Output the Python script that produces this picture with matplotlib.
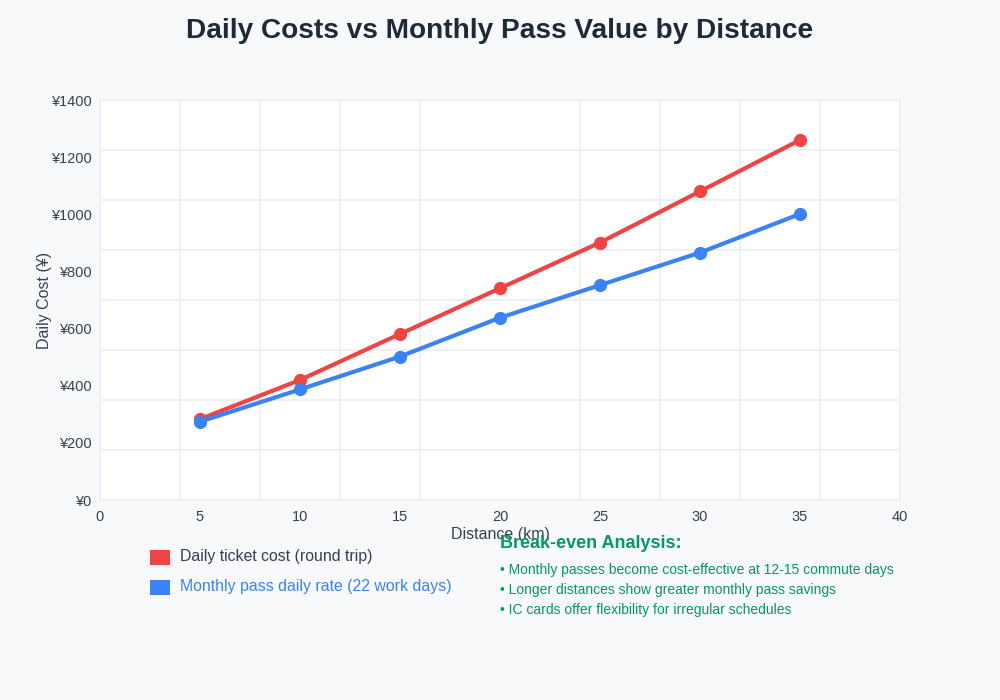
import numpy as np
import matplotlib.pyplot as plt
from matplotlib.patches import Rectangle

plt.rcParams['font.family'] = ['Liberation Sans', 'DejaVu Sans']

distance = [5, 10, 15, 20, 25, 30, 35]
ticket_cost = [283, 420, 581, 741, 901, 1080, 1260]
pass_rate = [274, 387, 502, 638, 752, 866, 1001]

x_ticks = [0, 5, 10, 15, 20, 25, 30, 35, 40]
y_ticks = [0, 200, 400, 600, 800, 1000, 1200, 1400]

notes = [
    "\u2022 Monthly passes become cost-effective at 12-15 commute days",
    "\u2022 Longer distances show greater monthly pass savings",
    "\u2022 IC cards offer flexibility for irregular schedules",
]

red = '#ef4444'
blue = '#3b82f6'
green = '#059669'
text_col = '#374151'
grid_col = '#edf0f5'

W, H = 1000, 700
fig = plt.figure(figsize=(W / 100, H / 100), dpi=100, facecolor='#f8f9fa')
ax = fig.add_axes([100 / W, 1 - 500 / H, 800 / W, 400 / H])
ax.set_facecolor('white')

ax.plot(distance, ticket_cost, color=red, lw=3, marker='o', ms=8.5, zorder=3)
ax.plot(distance, pass_rate, color=blue, lw=3, marker='o', ms=8.5, zorder=4)

ax.set_xlim(0, 40)
ax.set_ylim(0, 1400)
ax.set_xticks(x_ticks)
ax.set_yticks(y_ticks)
ax.set_yticklabels([f"\u00a5{v}" for v in y_ticks])
ax.set_xticks(np.arange(0, 41, 4), minor=True)
ax.set_yticks(np.arange(0, 1401, 175), minor=True)
ax.grid(which='minor', color=grid_col, lw=1.5)
ax.grid(which='major', visible=False)
ax.tick_params(which='both', length=0)
ax.tick_params(axis='both', labelsize=10.5, colors=text_col, pad=7)
ax.tick_params(axis='y', pad=6)
for s in ax.spines.values():
    s.set_color(grid_col)
    s.set_linewidth(1.5)

def ft(x, y, s, **kw):
    fig.text(x / W, 1 - y / H, s, **kw)

ft(500, 31, "Daily Costs vs Monthly Pass Value by Distance", ha='center', va='center',
   fontsize=20.2, fontweight='bold', color='#1f2937')
ft(500, 535, "Distance (km)", ha='center', va='center', fontsize=11.5, color=text_col)
ft(45, 300, "Daily Cost (\u00a5)", ha='center', va='center', rotation=90, fontsize=11.5, color=text_col)

fig.patches.append(Rectangle((150 / W, 1 - 565 / H), 20 / W, 15 / H, transform=fig.transFigure,
                             facecolor=red, edgecolor='none'))
fig.patches.append(Rectangle((150 / W, 1 - 595 / H), 20 / W, 15 / H, transform=fig.transFigure,
                             facecolor=blue, edgecolor='none'))
ft(180, 557, "Daily ticket cost (round trip)", va='center', fontsize=11.45, color=text_col)
ft(180, 587, "Monthly pass daily rate (22 work days)", va='center', fontsize=11.45, color=blue)

ft(500, 544, "Break-even Analysis:", va='center', fontsize=13, fontweight='bold', color=green)
for i, line in enumerate(notes):
    ft(500, 570 + 20 * i, line, va='center', fontsize=10, color=green)

fig.savefig('out.png', dpi=100, facecolor=fig.get_facecolor())
